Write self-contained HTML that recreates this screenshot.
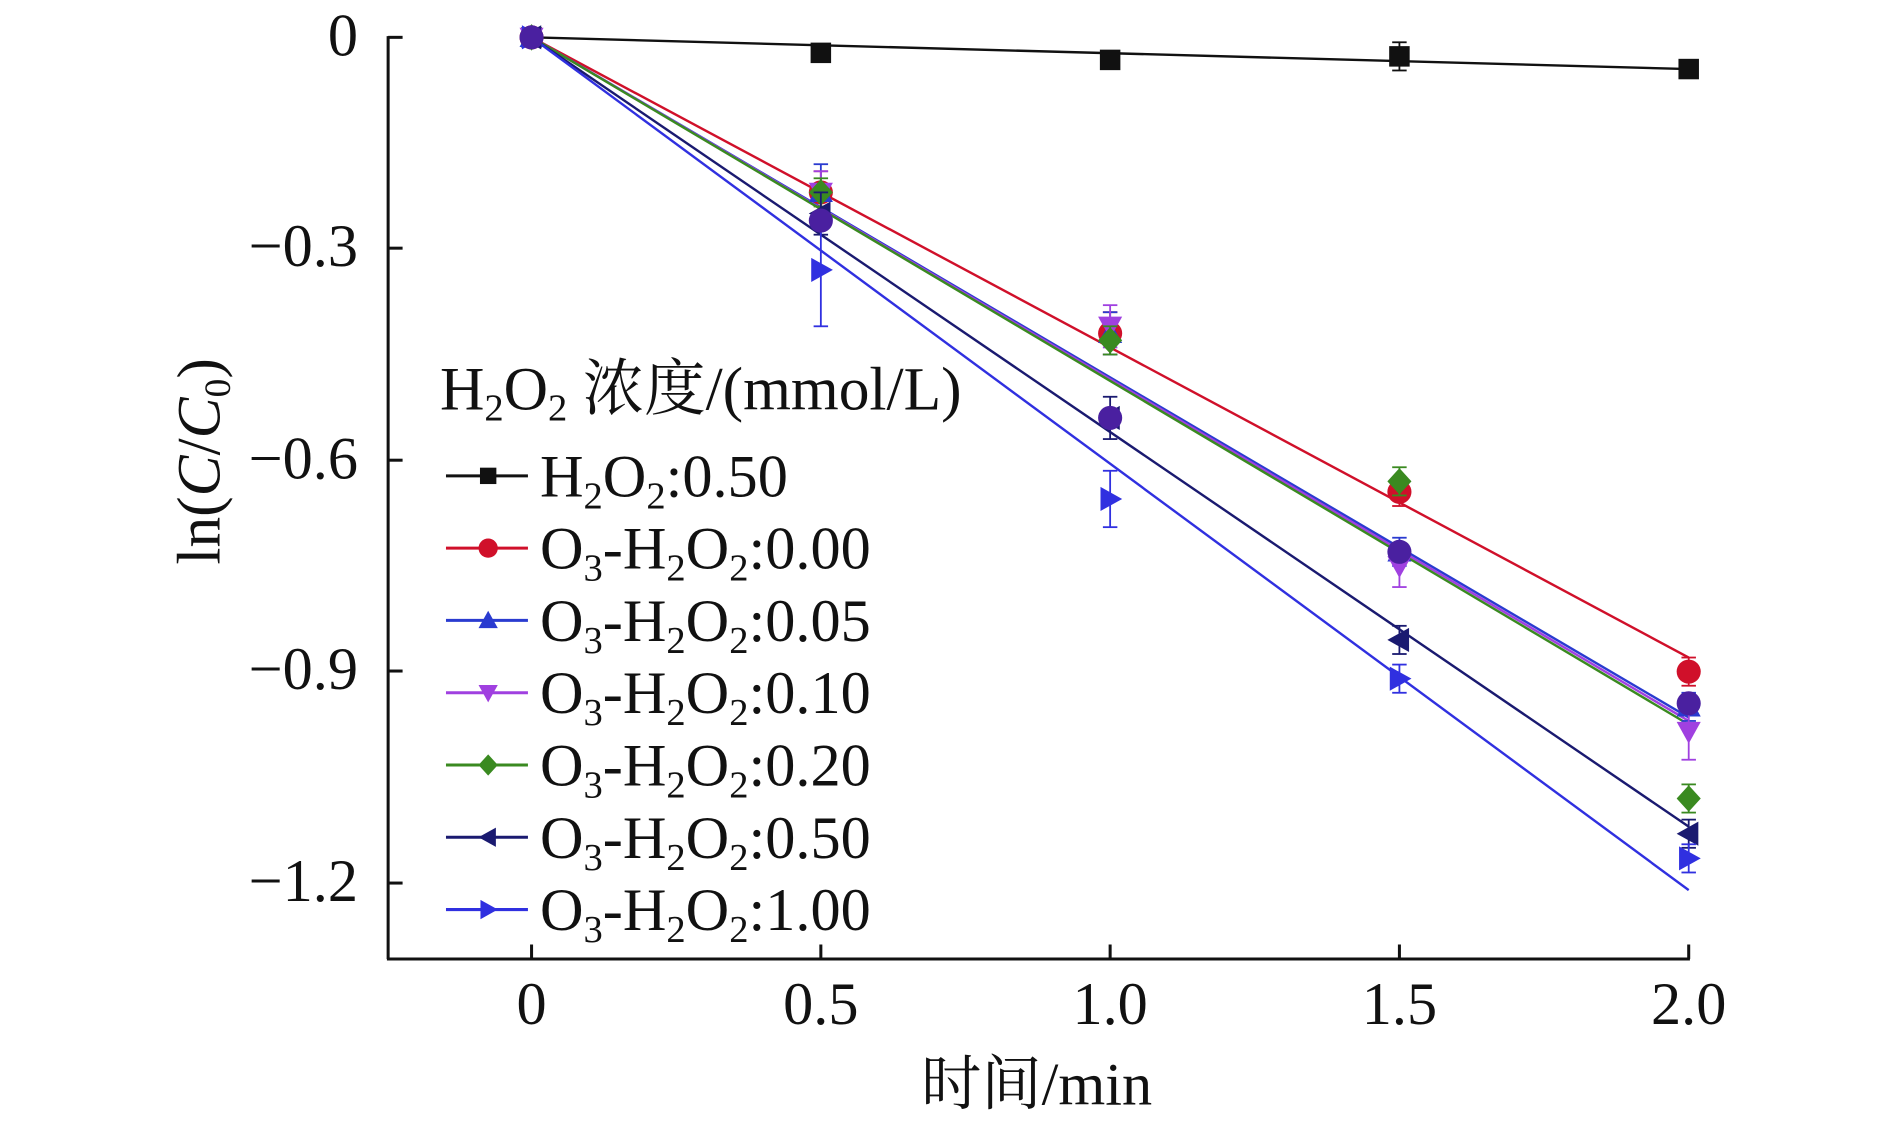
<!DOCTYPE html>
<html><head><meta charset="utf-8"><style>
html,body{margin:0;padding:0;background:#fff;}
svg{display:block;}
text{font-family:"Liberation Serif","Noto Serif CJK SC",serif;fill:#111;}
</style></head><body>
<svg id="s" width="1890" height="1124" viewBox="0 0 1568 933" preserveAspectRatio="none" xmlns="http://www.w3.org/2000/svg">
<g stroke="#111" stroke-width="2.5" fill="none">
<line x1="322" y1="30" x2="322" y2="796"/>
<line x1="321" y1="796" x2="1402" y2="796"/>
<line x1="322" y1="31" x2="334" y2="31"/>
<line x1="322" y1="206" x2="334" y2="206"/>
<line x1="322" y1="382" x2="334" y2="382"/>
<line x1="322" y1="557" x2="334" y2="557"/>
<line x1="322" y1="733" x2="334" y2="733"/>
<line x1="441" y1="796" x2="441" y2="784"/>
<line x1="681" y1="796" x2="681" y2="784"/>
<line x1="921" y1="796" x2="921" y2="784"/>
<line x1="1161" y1="796" x2="1161" y2="784"/>
<line x1="1401" y1="796" x2="1401" y2="784"/>
</g>
<g font-size="50" text-anchor="end">
<text x="297" y="46">0</text>
<text x="297" y="221">−0.3</text>
<text x="297" y="397">−0.6</text>
<text x="297" y="572">−0.9</text>
<text x="297" y="748">−1.2</text>
</g>
<g font-size="50" text-anchor="middle">
<text x="441" y="850">0</text>
<text x="681" y="850">0.5</text>
<text x="921" y="850">1.0</text>
<text x="1161" y="850">1.5</text>
<text x="1401" y="850">2.0</text>
<text x="860" y="917">时间/min</text>
</g>
<text font-size="51" transform="translate(182,383) rotate(-90)" text-anchor="middle">ln(<tspan font-style="italic">C</tspan>/<tspan font-style="italic">C</tspan><tspan font-size="31" dy="9">0</tspan><tspan dy="-9">)</tspan></text>
<g id="plot"></g>
<g id="leg"></g>
<text x="365" y="340" font-size="51">H<tspan font-size="32" dy="9">2</tspan><tspan dy="-9">O</tspan><tspan font-size="32" dy="9">2</tspan><tspan dy="-9"> 浓度/(mmol/L)</tspan></text>
</svg>
<script>
const X=t=>441+480*t, Y=v=>31-585*v;
const ts=[0,0.5,1,1.5,2];
const S=[
 {c:"#111",m:"sq",d:[0,-0.022,-0.032,-0.027,-0.045],e:-0.045,lab:["H","2","O","2",":0.50"],err:[0,0.005,0.006,0.02,0.006]},
 {c:"#d0102a",m:"ci",d:[0,-0.22,-0.42,-0.645,-0.9],e:-0.88,lab:["O","3","-H","2","O","2",":0.00"],err:[0,0.03,0.03,0.02,0.02]},
 {c:"#2a3bd0",m:"up",d:[0,-0.22,-0.42,-0.73,-0.95],e:-0.965,lab:["O","3","-H","2","O","2",":0.05"],err:[0,0.04,0.03,0.02,0.02]},
 {c:"#a040e0",m:"dn",d:[0,-0.22,-0.41,-0.75,-0.985],e:-0.97,lab:["O","3","-H","2","O","2",":0.10"],err:[0,0.03,0.03,0.03,0.04]},
 {c:"#3a8a20",m:"di",d:[0,-0.22,-0.43,-0.63,-1.08],e:-0.975,lab:["O","3","-H","2","O","2",":0.20"],err:[0,0.02,0.02,0.02,0.02]},
 {c:"#1a1a70",m:"lt",d:[0,-0.25,-0.54,-0.855,-1.13],e:-1.12,lab:["O","3","-H","2","O","2",":0.50"],err:[0,0.03,0.03,0.02,0.02]},
 {c:"#3030e0",m:"rt",d:[0,-0.33,-0.655,-0.91,-1.165],e:-1.21,lab:["O","3","-H","2","O","2",":1.00"],err:[0,0.08,0.04,0.02,0.02]},
 {c:"#4a20a0",m:"ci",d:[0,-0.26,-0.54,-0.73,-0.945],e:null,err:[0,0,0,0,0]}
];
function mk(m,x,y,c,r){r=r||10;
 switch(m){
 case"sq":return`<rect x="${x-r*0.85}" y="${y-r*0.85}" width="${r*1.7}" height="${r*1.7}" fill="${c}"/>`;
 case"ci":return`<circle cx="${x}" cy="${y}" r="${r}" fill="${c}"/>`;
 case"up":return`<polygon points="${x},${y-r} ${x-r},${y+r*0.8} ${x+r},${y+r*0.8}" fill="${c}"/>`;
 case"dn":return`<polygon points="${x},${y+r} ${x-r},${y-r*0.8} ${x+r},${y-r*0.8}" fill="${c}"/>`;
 case"di":return`<polygon points="${x},${y-r*1.1} ${x+r},${y} ${x},${y+r*1.1} ${x-r},${y}" fill="${c}"/>`;
 case"lt":return`<polygon points="${x-r},${y} ${x+r*0.8},${y-r} ${x+r*0.8},${y+r}" fill="${c}"/>`;
 case"rt":return`<polygon points="${x+r},${y} ${x-r*0.8},${y-r} ${x-r*0.8},${y+r}" fill="${c}"/>`;}
}
let h="";
S.forEach(s=>{if(s.e!==null)h+=`<line x1="${X(0)}" y1="${Y(0)}" x2="${X(2)}" y2="${Y(s.e)}" stroke="${s.c}" stroke-width="2"/>`;});
S.forEach(s=>{ts.forEach((t,i)=>{const e=s.err[i];if(e>0){h+=`<g stroke="${s.c}" stroke-width="1.5"><line x1="${X(t)}" y1="${Y(s.d[i]+e)}" x2="${X(t)}" y2="${Y(s.d[i]-e)}"/><line x1="${X(t)-6}" y1="${Y(s.d[i]+e)}" x2="${X(t)+6}" y2="${Y(s.d[i]+e)}"/><line x1="${X(t)-6}" y1="${Y(s.d[i]-e)}" x2="${X(t)+6}" y2="${Y(s.d[i]-e)}"/></g>`;}
 h+=mk(s.m,X(t),Y(s.d[i]),s.c);});});
document.getElementById("plot").innerHTML=h;
let g="";
S.slice(0,7).forEach((s,i)=>{const y=395+60*i;
 g+=`<line x1="370" y1="${y}" x2="438" y2="${y}" stroke="${s.c}" stroke-width="2.5"/>`+mk(s.m,405,y,s.c,8);
 let lab="";s.lab.forEach((p,k)=>{lab+= (k%2==1)?`<tspan font-size="32" dy="10">${p}</tspan>`:(k==0?`<tspan>${p}</tspan>`:`<tspan dy="-10">${p}</tspan>`);});
 g+=`<text x="448" y="${y+17}" font-size="50">${lab}</text>`;});
document.getElementById("leg").innerHTML=g;
</script>
</body></html>
